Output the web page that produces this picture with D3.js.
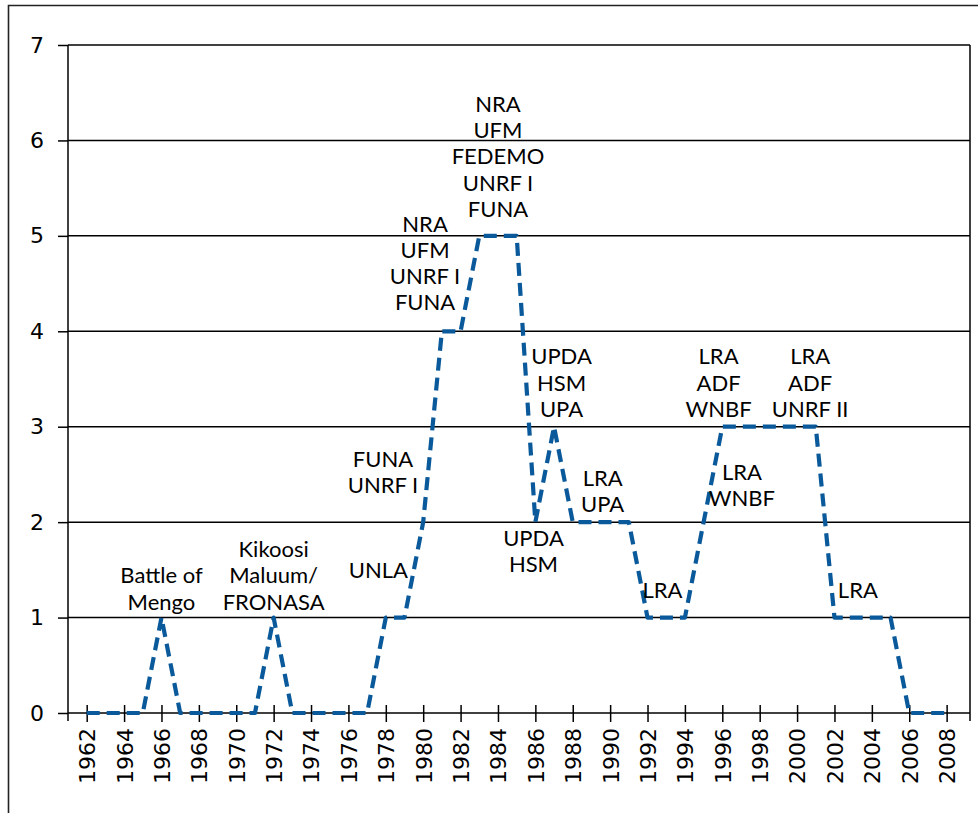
<!DOCTYPE html>
<html>
<head>
<meta charset="utf-8">
<script src="https://cdn.jsdelivr.net/npm/d3@7/dist/d3.min.js"></script>
<style>
  html, body { margin: 0; padding: 0; background: #fff; }
  svg { display: block; }
</style>
</head>
<body>
<script>
// ---- data ----
const years = [1962,1963,1964,1965,1966,1967,1968,1969,1970,1971,1972,1973,1974,1975,1976,1977,1978,1979,1980,1981,1982,1983,1984,1985,1986,1987,1988,1989,1990,1991,1992,1993,1994,1995,1996,1997,1998,1999,2000,2001,2002,2003,2004,2005,2006,2007,2008];
const groups = [0,0,0,0,1,0,0,0,0,0,1,0,0,0,0,0,1,1,2,4,4,5,5,5,2,3,2,2,2,2,1,1,1,2,3,3,3,3,3,3,1,1,1,1,0,0,0];
const yTicks = [0,1,2,3,4,5,6,7];
const xTickYears = [1962,1964,1966,1968,1970,1972,1974,1976,1978,1980,1982,1984,1986,1988,1990,1992,1994,1996,1998,2000,2002,2004,2006,2008];
const annoYears = [1966, 1972, 1977.6, 1977.85, 1980.1, 1984, 1987.4, 1985.9, 1989.6, 1992.8, 1995.8, 2000.7, 1997.05, 2003.25];
const annoValues = [1, 1, 1, 2, 4, 5, 3, 2, 2, 1, 3, 3, 2, 1];
const annoTexts = [
  ["Battle of","Mengo"],
  ["Kikoosi","Maluum/","FRONASA"],
  ["UNLA"],
  ["FUNA","UNRF I"],
  ["NRA","UFM","UNRF I","FUNA"],
  ["NRA","UFM","FEDEMO","UNRF I","FUNA"],
  ["UPDA","HSM","UPA"],
  ["UPDA","HSM"],
  ["LRA","UPA"],
  ["LRA"],
  ["LRA","ADF","WNBF"],
  ["LRA","ADF","UNRF II"],
  ["LRA","WNBF"],
  ["LRA"]
];

// ---- layout ----
// pixel gap between anchor value and the label's nearest baseline (negative = label below)
const annoGap = [8, 8, 40, 29, 21, 19, 10, -24, 10, 20, 10, 10, 16, 20];
const W = 978, H = 813;
const mLeft = 68, mRight = 970, mTop = 45, mBottom = 713;
const svg = d3.select("body").append("svg").attr("width", W).attr("height", H);

// outer frame
svg.append("path")
  .attr("d", `M8.5,${H} L8.5,5.5 L${W},5.5`)
  .attr("fill", "none").attr("stroke", "#222").attr("stroke-width", 1.6);

const x = d3.scaleLinear().domain([1961, 2009.25]).range([mLeft, mRight]);
const y = d3.scaleLinear().domain([0, 7]).range([mBottom, mTop]);

// gridlines
svg.append("g").selectAll("line").data(yTicks.filter(d => d > 0)).join("line")
  .attr("x1", mLeft).attr("x2", mRight)
  .attr("y1", d => y(d)).attr("y2", d => y(d))
  .attr("stroke", "#000").attr("stroke-width", 1.5);

// right border
svg.append("line").attr("x1", mRight).attr("x2", mRight).attr("y1", mTop).attr("y2", mBottom + 8)
  .attr("stroke", "#000").attr("stroke-width", 1.5);

// y axis
const yAxis = svg.append("g").attr("transform", `translate(${mLeft},0)`)
  .call(d3.axisLeft(y).tickValues(yTicks).tickFormat(d3.format("d")).tickSize(10).tickPadding(14));
yAxis.select(".domain").attr("stroke", "#000").attr("stroke-width", 1.5).attr("d", `M0,${mTop}V${mBottom + 8}`);
yAxis.selectAll(".tick line").attr("stroke", "#000").attr("stroke-width", 1.5);
yAxis.selectAll("text").attr("font-family", "DejaVu Sans").attr("font-size", 22).attr("fill", "#000");

// x axis
const xAxis = svg.append("g").attr("transform", `translate(0,${mBottom})`)
  .call(d3.axisBottom(x).tickValues(xTickYears).tickFormat(d3.format("d")).tickSize(9));
xAxis.select(".domain").attr("stroke", "#000").attr("stroke-width", 1.5).attr("d", `M${mLeft},0H${mRight}`);
xAxis.selectAll(".tick line").attr("stroke", "#000").attr("stroke-width", 1.5).attr("y1", -8);
xAxis.selectAll("text")
  .attr("font-family", "DejaVu Sans").attr("font-size", 22).attr("fill", "#000")
  .attr("transform", "rotate(-90)")
  .attr("x", -15).attr("y", 0).attr("dy", "0.36em")
  .style("text-anchor", "end");

// line
const line = d3.line().x((d, i) => x(years[i])).y(d => y(d));
svg.append("path").datum(groups)
  .attr("d", line)
  .attr("fill", "none")
  .attr("stroke", "#0a5a9b")
  .attr("stroke-width", 4.2)
  .attr("stroke-dasharray", "13,7")
  .attr("stroke-linejoin", "round");

// annotations
const lh = 26.2;
const ag = svg.append("g").attr("font-family", "Lato").attr("font-size", 22).attr("fill", "#000").attr("text-anchor", "middle");
annoTexts.forEach((lines, k) => {
  const cx = x(annoYears[k]);
  const vy = y(annoValues[k]);
  const n = lines.length;
  const g = annoGap[k];
  lines.forEach((t, j) => {
    const by = g > 0 ? vy - g - (n - 1 - j) * lh : vy - g + j * lh;
    ag.append("text").attr("x", cx).attr("y", by).text(t);
  });
});
</script>
</body>
</html>
